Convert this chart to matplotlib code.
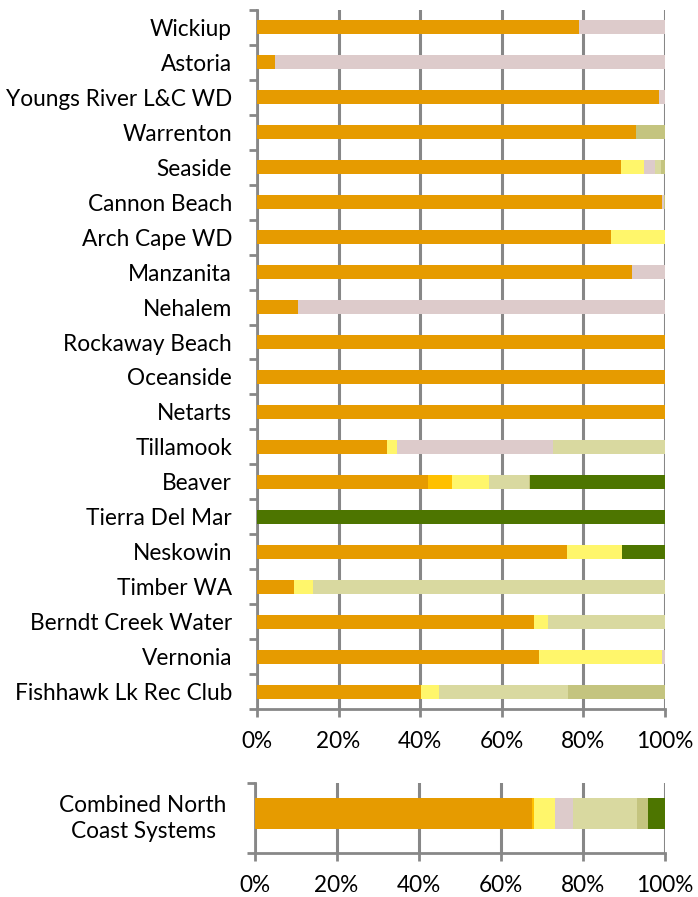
import numpy as np
import matplotlib.pyplot as plt

plt.rcParams['font.family'] = ['Lato', 'DejaVu Sans']

# Systems, top to bottom
systems = ["Wickiup", "Astoria", "Youngs River L&C WD", "Warrenton", "Seaside",
           "Cannon Beach", "Arch Cape WD", "Manzanita", "Nehalem", "Rockaway Beach",
           "Oceanside", "Netarts", "Tillamook", "Beaver", "Tierra Del Mar",
           "Neskowin", "Timber WA", "Berndt Creek Water", "Vernonia",
           "Fishhawk Lk Rec Club"]

# share (%) of each category per system
s_orange = [79, 4.5, 98.5, 93, 89.2, 99.3, 86.7, 92, 10, 100,
            100, 100, 31.9, 42, 0, 76, 9.1, 67.8, 69.1, 40.1]
s_gold = [0, 0, 0, 0, 0, 0, 0, 0, 0, 0,
          0, 0, 0, 5.7, 0, 0, 0, 0, 0, 0]
s_yellow = [0, 0, 0, 0, 5.6, 0, 13.3, 0, 0, 0,
            0, 0, 2.3, 9.1, 0, 13.4, 4.7, 3.5, 30.2, 4.4]
s_pink = [21, 95.5, 1.5, 0, 2.7, 0.5, 0, 8, 90, 0,
          0, 0, 38.4, 0, 0, 0, 0, 0, 0.7, 0]
s_khaki = [0, 0, 0, 0, 1.4, 0, 0, 0, 0, 0,
           0, 0, 27.4, 9.9, 0, 0, 86.2, 28.7, 0, 31.7]
s_olive = [0, 0, 0, 7, 1.1, 0.2, 0, 0, 0, 0,
           0, 0, 0, 0.3, 0, 0, 0, 0, 0, 23.8]
s_green = [0, 0, 0, 0, 0, 0, 0, 0, 0, 0,
           0, 0, 0, 33, 100, 10.6, 0, 0, 0, 0]

combined_label = "Combined North\nCoast Systems"
combined = [67.7, 0.5, 4.9, 4.4, 15.6, 2.7, 4.2]

colors = ["#E69B00", "#FFC000", "#FFF66B", "#DDCBCB", "#D9D9A0", "#C4C47F", "#4D7500"]
series = [s_orange, s_gold, s_yellow, s_pink, s_khaki, s_olive, s_green]

fig = plt.figure(figsize=(6.98, 8.97), dpi=100)
W, H = 698, 897
ax1 = fig.add_axes([257 / W, 1 - 709 / H, 408 / W, 699 / H])
ax2 = fig.add_axes([254.5 / W, 1 - 853 / H, 410.5 / W, 70 / H])

grid_c = "#878787"
fs = 16.3


def style(ax):
    ax.set_xlim(0, 100)
    ax.set_xticks(np.arange(0, 101, 20))
    ax.set_xticklabels([f"{v}%" for v in range(0, 101, 20)], fontsize=fs)
    ax.grid(axis='x', color=grid_c, linewidth=2.2, zorder=0)
    ax.set_axisbelow(True)
    for s in ['top', 'right']:
        ax.spines[s].set_visible(False)
    for s in ['left', 'bottom']:
        ax.spines[s].set_color(grid_c)
        ax.spines[s].set_linewidth(2)
    ax.tick_params(axis='x', length=6, width=2, color=grid_c, pad=10)
    ax.tick_params(axis='y', which='major', length=0, pad=18)
    ax.tick_params(axis='y', which='minor', length=6, width=2, color=grid_c)


# main chart
y = np.arange(len(systems))
left = np.zeros(len(systems))
for vals, c in zip(series, colors):
    ax1.barh(y, vals, left=left, height=0.4, color=c, zorder=3)
    left += np.array(vals)
ax1.set_ylim(len(systems) - 0.5, -0.5)
ax1.set_yticks(y)
ax1.set_yticklabels(systems, fontsize=fs)
ax1.set_yticks(np.arange(-0.5, len(systems)), minor=True)
style(ax1)

# combined bar
left = 0
for v, c in zip(combined, colors):
    ax2.barh([0], [v], left=left, height=0.44, color=c, zorder=3)
    left += v
ax2.set_ylim(-0.564, 0.436)
ax2.set_yticks([0])
ax2.set_yticklabels([combined_label], fontsize=fs, multialignment='center',
                    linespacing=1.35)
ax2.set_yticks([-0.564, 0.436], minor=True)
style(ax2)
ax2.tick_params(axis='y', which='major', pad=20)

fig.savefig("out.png", dpi=100)
